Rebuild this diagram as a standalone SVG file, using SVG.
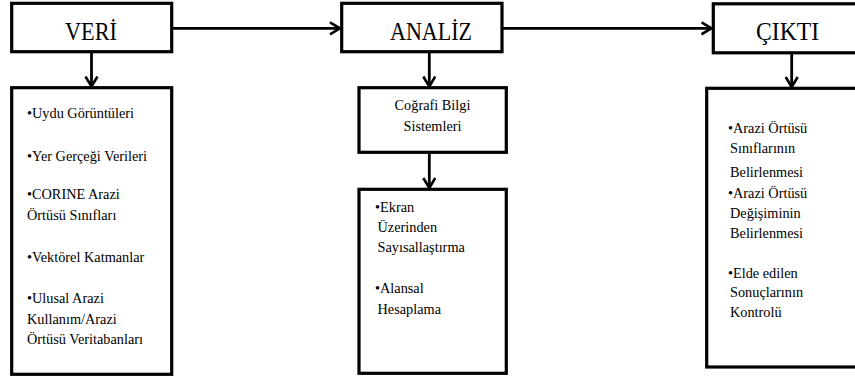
<svg xmlns="http://www.w3.org/2000/svg" width="855" height="376" viewBox="0 0 855 376">
<defs>
<style>
.box{fill:#ffffff;stroke:#000000;stroke-width:3.2}
.title{font-family:"Liberation Serif","Times New Roman",serif;font-size:25px;fill:#000}
.t{font-family:"Liberation Serif","Times New Roman",serif;font-size:14.3px;fill:#000}
.c{text-anchor:middle}
.conn{fill:none;stroke:#000;stroke-width:2.8}
</style>
<marker id="arr" markerUnits="userSpaceOnUse" markerWidth="14" markerHeight="16" refX="11" refY="7" orient="auto">
<path d="M1,1 L11,7 L1,13" fill="none" stroke="#000" stroke-width="2.6"/>
</marker>
</defs>
<rect width="855" height="376" fill="#ffffff"/>
<g id="connectors">
<line class="conn" x1="171.7" y1="28.3" x2="340" y2="28.3" marker-end="url(#arr)"/>
<line class="conn" x1="502" y1="28.3" x2="711.5" y2="28.3" marker-end="url(#arr)"/>
<line class="conn" x1="91.5" y1="51.7" x2="91.5" y2="86.5" marker-end="url(#arr)"/>
<line class="conn" x1="429.3" y1="51.7" x2="429.3" y2="86.5" marker-end="url(#arr)"/>
<line class="conn" x1="791.7" y1="53" x2="791.7" y2="87" marker-end="url(#arr)"/>
<line class="conn" x1="429.3" y1="152.3" x2="429.3" y2="188" marker-end="url(#arr)"/>
</g>
<g id="veri">
<rect class="box" x="11.7" y="3.3" width="160" height="48.4"/>
<text class="title" x="65" y="39.5" textLength="52" lengthAdjust="spacingAndGlyphs">VERİ</text>
</g>
<g id="analiz">
<rect class="box" x="341.7" y="3.3" width="160.3" height="48.4"/>
<text class="title" x="390" y="40" textLength="82" lengthAdjust="spacingAndGlyphs">ANALİZ</text>
</g>
<g id="cikti">
<rect class="box" x="713.3" y="3.8" width="150" height="49"/>
<text class="title" x="756" y="40" textLength="63" lengthAdjust="spacingAndGlyphs">ÇIKTI</text>
</g>
<g id="veri-list">
<rect class="box" x="11.7" y="87.7" width="160" height="286.6"/>
<text class="t" x="27" y="117.5">•Uydu Görüntüleri</text>
<text class="t" x="27" y="160.5">•Yer Gerçeği Verileri</text>
<text class="t" x="27" y="198.5">•CORINE Arazi</text>
<text class="t" x="27" y="220">Örtüsü Sınıfları</text>
<text class="t" x="27" y="262">•Vektörel Katmanlar</text>
<text class="t" x="27" y="303">•Ulusal Arazi</text>
<text class="t" x="27" y="324">Kullanım/Arazi</text>
<text class="t" x="27" y="343.5">Örtüsü Veritabanları</text>
</g>
<g id="cbs">
<rect class="box" x="359" y="87.7" width="147.3" height="64.6"/>
<text class="t c" x="432.5" y="110">Coğrafi Bilgi</text>
<text class="t c" x="432.5" y="130.5">Sistemleri</text>
</g>
<g id="analiz-list">
<rect class="box" x="359" y="189.3" width="147.3" height="184"/>
<text class="t" x="375" y="211.5">•Ekran</text>
<text class="t" x="377.5" y="231.5">Üzerinden</text>
<text class="t" x="377.5" y="252">Sayısallaştırma</text>
<text class="t" x="375" y="293">•Alansal</text>
<text class="t" x="377.5" y="313.5">Hesaplama</text>
</g>
<g id="cikti-list">
<rect class="box" x="706.7" y="88.3" width="160" height="278.7"/>
<text class="t" x="728" y="133">•Arazi Örtüsü</text>
<text class="t" x="730" y="152.5">Sınıflarının</text>
<text class="t" x="730" y="177">Belirlenmesi</text>
<text class="t" x="728" y="198">•Arazi Örtüsü</text>
<text class="t" x="730" y="217.5">Değişiminin</text>
<text class="t" x="730" y="237.5">Belirlenmesi</text>
<text class="t" x="728" y="277.5">•Elde edilen</text>
<text class="t" x="730" y="297">Sonuçlarının</text>
<text class="t" x="730" y="317">Kontrolü</text>
</g>
</svg>
